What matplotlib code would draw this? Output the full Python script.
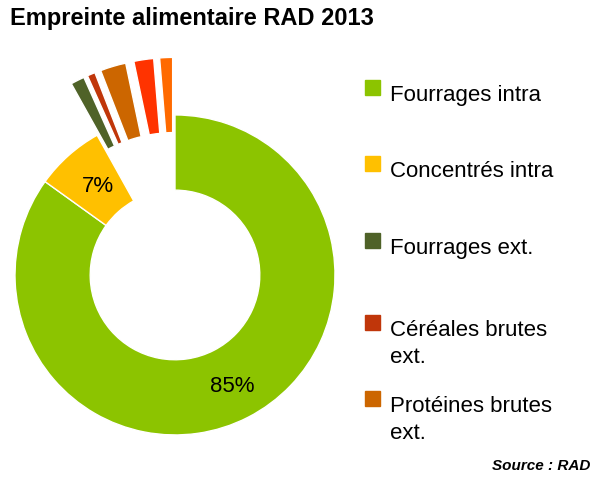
import matplotlib
matplotlib.use("Agg")
import matplotlib.pyplot as plt
from matplotlib.patches import Rectangle

categories = ["Fourrages intra", "Concentrés intra", "Fourrages ext.",
              "Céréales brutes ext.", "Protéines brutes ext.", "Autre 1", "Autre 2"]
values = [85, 7, 1.4, 0.8, 2.6, 2.0, 1.3]
colors = ["#8CC400", "#FFC000", "#4F6228", "#C0360A", "#CC6600", "#FF3300", "#FF6A00"]
explode = [0, 0, 0.36, 0.36, 0.36, 0.36, 0.36]
legend_labels = ["Fourrages intra", "Concentrés intra", "Fourrages ext.",
                 "Céréales brutes\next.", "Protéines brutes\next."]

plt.rcParams["font.family"] = "Liberation Sans"
fig = plt.figure(figsize=(6.05, 4.83), dpi=100)
ax = fig.add_axes([-0.081, -0.033, 0.7405, 0.9275])
wedges, _ = ax.pie(values, colors=colors, explode=explode, startangle=90,
                   counterclock=False, wedgeprops=dict(width=0.47, edgecolor="white", linewidth=1.0))
ax.set_xlim(-1.4, 1.4)
ax.set_ylim(-1.4, 1.4)
ax.set_aspect("equal")
ax.axis("off")

ax.text(-0.48, 0.55, "7%", fontsize=16, ha="center", va="center")
ax.text(0.36, -0.70, "85%", fontsize=16, ha="center", va="center")

fig.text(0.017, 0.962, "Empreinte alimentaire RAD 2013", fontsize=17,
         fontweight="bold", ha="left", va="center")

ys = [85, 161, 238, 320, 396]
for lab, c, y in zip(legend_labels, colors, ys):
    fig.add_artist(Rectangle((365 / 605, 1 - (y + 10) / 483), 15 / 605, 15 / 483,
                             color=c, transform=fig.transFigure))
    fig.text(390 / 605, 1 - y / 483, lab, fontsize=16, ha="left", va="top",
             linespacing=1.4)

fig.text(0.975, 0.035, "Source\u00a0:\u00a0RAD", fontsize=11, fontweight="bold",
         fontstyle="italic", ha="right", va="center")

fig.savefig("out.png", dpi=100)
